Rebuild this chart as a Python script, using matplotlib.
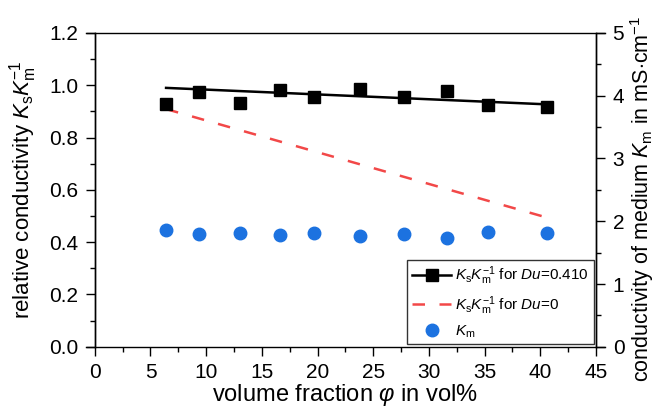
import matplotlib
matplotlib.use('Agg')
import matplotlib.pyplot as plt
from matplotlib.ticker import MultipleLocator

plt.rcParams['font.family'] = ['Liberation Sans', 'DejaVu Sans']
plt.rcParams['mathtext.fontset'] = 'custom'
plt.rcParams['mathtext.rm'] = 'Liberation Sans'
plt.rcParams['mathtext.it'] = 'Liberation Sans:italic'
plt.rcParams['mathtext.bf'] = 'Liberation Sans:bold'

# volume fraction in vol%
phi = [6.4, 9.4, 13.0, 16.6, 19.7, 23.8, 27.8, 31.6, 35.3, 40.6]
# relative conductivity Ks/Km, measured
ks_km = [0.928, 0.973, 0.932, 0.983, 0.954, 0.985, 0.955, 0.979, 0.925, 0.918]
# fit for Du=0.410 and model for Du=0 (end points)
fit_x = [6.4, 40.6]
fit_y = [0.990, 0.927]
du0_x = [6.4, 40.6]
du0_y = [0.909, 0.494]
# conductivity of medium in mS/cm
km = [1.86, 1.79, 1.82, 1.78, 1.81, 1.76, 1.79, 1.74, 1.83, 1.81]

red = '#f24848'
blue = '#1c72e0'
dash = (5, 5.8)

fig = plt.figure(figsize=(6.56, 4.07), dpi=100)
ax = fig.add_axes([0.1445, 0.148, 0.764, 0.771])
ax2 = ax.twinx()

ax.plot(fit_x, fit_y, color='black', lw=1.8, zorder=3)
ax.plot(phi, ks_km, 's', color='black', ms=8.5, zorder=4)
ax.plot(du0_x, du0_y, '--', color=red, lw=1.8, dashes=dash, zorder=3)
ax2.plot(phi, km, 'o', color=blue, ms=9, zorder=4)

ax.set_xlim(0, 45)
ax.set_ylim(0, 1.2)
ax2.set_ylim(0, 5)

ax.xaxis.set_major_locator(MultipleLocator(5))
ax.xaxis.set_minor_locator(MultipleLocator(2.5))
ax.yaxis.set_major_locator(MultipleLocator(0.2))
ax.yaxis.set_minor_locator(MultipleLocator(0.1))
ax2.yaxis.set_major_locator(MultipleLocator(1))
ax2.yaxis.set_minor_locator(MultipleLocator(0.5))
ax.yaxis.set_major_formatter(plt.FuncFormatter(lambda v, p: f'{v:.1f}'))

for a in (ax, ax2):
    a.tick_params(which='major', direction='out', length=6.5, width=1, labelsize=15, pad=5.5)
    a.tick_params(which='minor', direction='out', length=3.5, width=1)
    for s in a.spines.values():
        s.set_linewidth(1)
ax.tick_params(top=False, right=False)
ax2.spines['top'].set_visible(False)
ax2.spines['bottom'].set_visible(False)
ax.spines['top'].set_bounds(-0.8, 45.8)
ax.spines['bottom'].set_bounds(-0.8, 45.8)

ax.set_xlabel(r'volume fraction $\varphi$ in vol%', fontsize=17, labelpad=0)
ax.set_ylabel(r'relative conductivity $K_\mathrm{s}K_\mathrm{m}^{-1}$', fontsize=16, labelpad=7)
ax2.set_ylabel(r'conductivity of medium $K_\mathrm{m}$ in mS$\cdot$cm$^{-1}$', fontsize=15.5, labelpad=3)
ax2.yaxis.label.set_y(0.47)

h1, = ax.plot([], [], '-s', color='black', ms=8.5, lw=1.8)
h2, = ax.plot([], [], '--', color=red, lw=1.8, dashes=dash)
h3, = ax.plot([], [], 'o', color=blue, ms=9)
leg = ax2.legend([h1, h2, h3],
                 [r'$K_\mathrm{s}K_\mathrm{m}^{-1}$ for $Du$=0.410',
                  r'$K_\mathrm{s}K_\mathrm{m}^{-1}$ for $Du$=0',
                  r'$K_\mathrm{m}$'],
                 loc='lower right', fontsize=11, frameon=True, fancybox=False,
                 edgecolor='black', handlelength=2.6, handletextpad=0.25,
                 borderpad=0.3, labelspacing=0.45, borderaxespad=0.15)
leg.get_frame().set_linewidth(1)

fig.savefig('out.png', dpi=100)
